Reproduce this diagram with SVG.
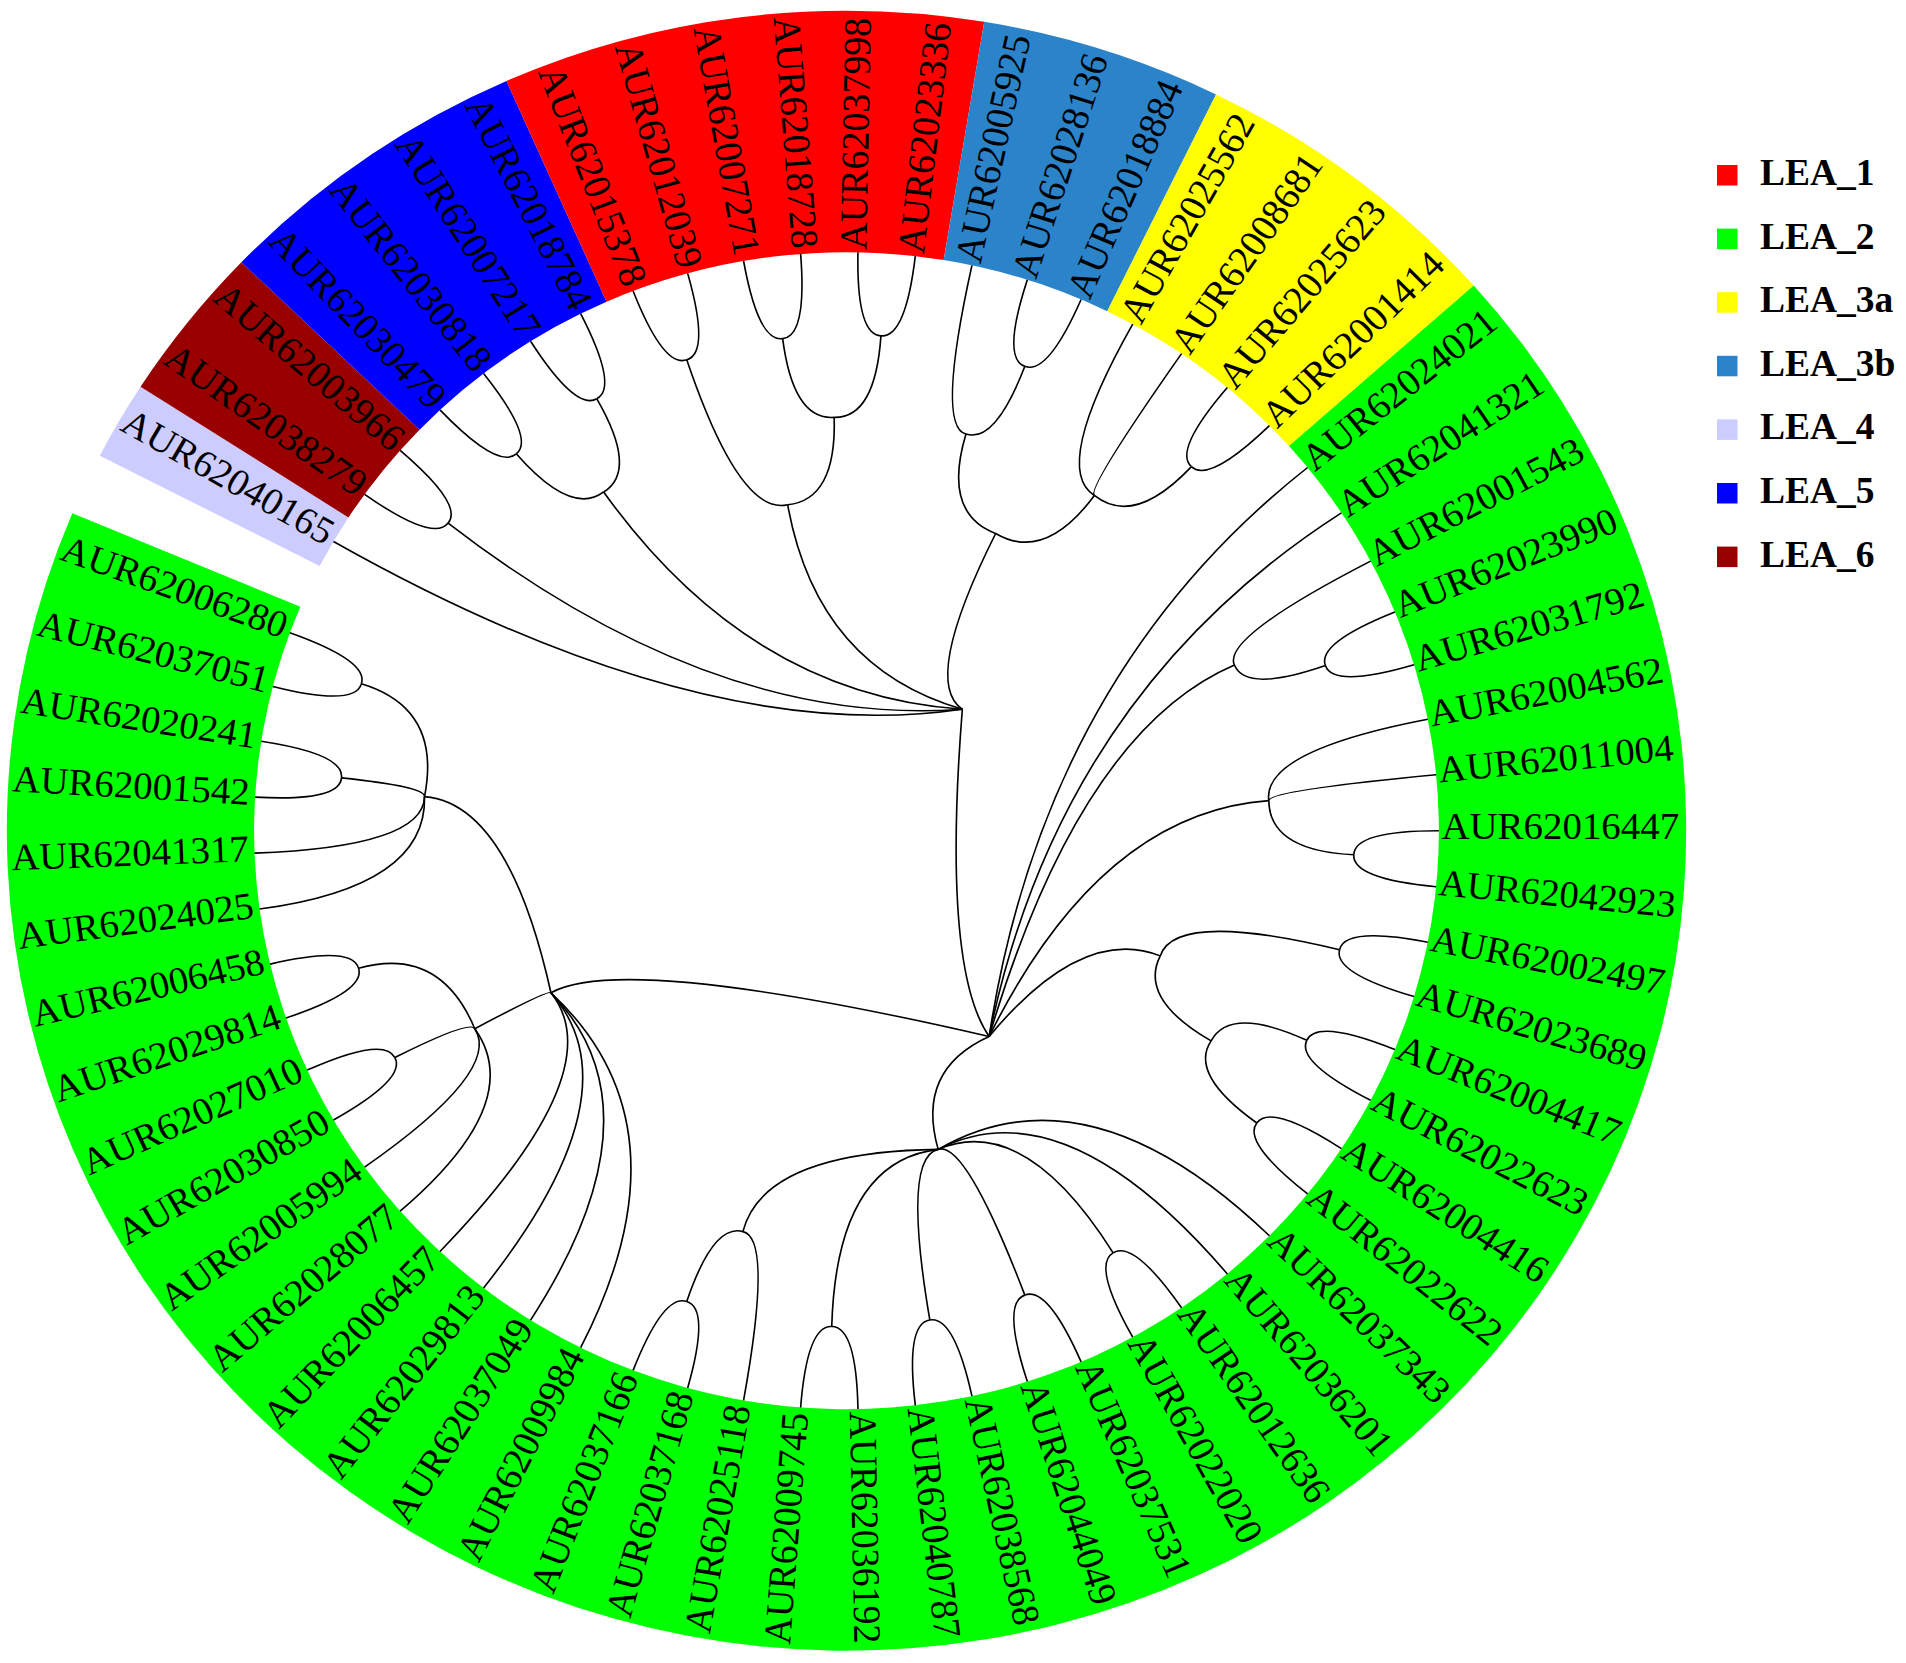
<svg xmlns="http://www.w3.org/2000/svg" width="1906" height="1663" viewBox="0 0 1906 1663">
<style>
.l{font-family:"Liberation Serif","Times New Roman",serif;font-size:38px;fill:#000}
.i{text-anchor:end}
.e path{fill:none;stroke:#000;stroke-width:1.6}
.lg{font-family:"Liberation Serif","Times New Roman",serif;font-size:37.5px;font-weight:bold;fill:#000}
</style>
<rect width="1906" height="1663" fill="#fff"/>
<g transform="translate(846.5,830.7) scale(1.024,1)">
<g id="ring">
<path id="sec-LEA_4" fill="#CCCCFF" d="M-514.44,-264.61L-729.19,-375.07A820 820 0 0 1 -689.42,-443.96L-486.38,-313.21A578.5 578.5 0 0 0 -514.44,-264.61Z"/>
<path id="sec-LEA_6" fill="#990000" d="M-486.38,-313.21L-689.42,-443.96A820 820 0 0 1 -590.95,-568.49L-416.91,-401.06A578.5 578.5 0 0 0 -486.38,-313.21Z"/>
<path id="sec-LEA_5" fill="#0000FF" d="M-416.91,-401.06L-590.95,-568.49A820 820 0 0 1 -332.09,-749.74L-234.28,-528.94A578.5 578.5 0 0 0 -416.91,-401.06Z"/>
<path id="sec-LEA_1" fill="#FF0000" d="M-234.28,-528.94L-332.09,-749.74A820 820 0 0 1 134.50,-808.89L94.89,-570.66A578.5 578.5 0 0 0 -234.28,-528.94Z"/>
<path id="sec-LEA_3b" fill="#2B84CA" d="M94.89,-570.66L134.50,-808.89A820 820 0 0 1 360.88,-736.32L254.59,-519.47A578.5 578.5 0 0 0 94.89,-570.66Z"/>
<path id="sec-LEA_3a" fill="#FFFF00" d="M254.59,-519.47L360.88,-736.32A820 820 0 0 1 612.53,-545.17L432.13,-384.61A578.5 578.5 0 0 0 254.59,-519.47Z"/>
<path id="sec-LEA_2" fill="#00FF00" d="M432.13,-384.61L612.53,-545.17A820 820 0 1 1 -756.04,-317.50L-533.38,-223.99A578.5 578.5 0 1 0 432.13,-384.61Z"/>
</g>
<g id="labels" class="l">
<g id="n0"><text class="i" transform="rotate(-150) translate(584 -8) rotate(180)">AUR62040165</text></g>
<g id="n1"><text class="i" transform="rotate(-144.444) translate(584 -8) rotate(180)">AUR62038279</text></g>
<g id="n2"><text class="i" transform="rotate(-138.889) translate(584 -8) rotate(180)">AUR62003966</text></g>
<g id="n3"><text class="i" transform="rotate(-133.333) translate(584 -8) rotate(180)">AUR62030479</text></g>
<g id="n4"><text class="i" transform="rotate(-127.778) translate(584 -8) rotate(180)">AUR62030818</text></g>
<g id="n5"><text class="i" transform="rotate(-122.222) translate(584 -8) rotate(180)">AUR62007217</text></g>
<g id="n6"><text class="i" transform="rotate(-116.667) translate(584 -8) rotate(180)">AUR62018784</text></g>
<g id="n7"><text class="i" transform="rotate(-111.111) translate(584 -8) rotate(180)">AUR62015378</text></g>
<g id="n8"><text class="i" transform="rotate(-105.556) translate(584 -8) rotate(180)">AUR62012039</text></g>
<g id="n9"><text class="i" transform="rotate(-100) translate(584 -8) rotate(180)">AUR62007271</text></g>
<g id="n10"><text class="i" transform="rotate(-94.444) translate(584 -8) rotate(180)">AUR62018728</text></g>
<g id="n11"><text transform="rotate(-88.889) translate(581 8)">AUR62037998</text></g>
<g id="n12"><text transform="rotate(-83.333) translate(581 8)">AUR62023336</text></g>
<g id="n13"><text transform="rotate(-77.778) translate(581 8)">AUR62005925</text></g>
<g id="n14"><text transform="rotate(-72.222) translate(581 8)">AUR62028136</text></g>
<g id="n15"><text transform="rotate(-66.667) translate(581 8)">AUR62018884</text></g>
<g id="n16"><text transform="rotate(-61.111) translate(581 8)">AUR62025562</text></g>
<g id="n17"><text transform="rotate(-55.556) translate(581 8)">AUR62008681</text></g>
<g id="n18"><text transform="rotate(-50) translate(581 8)">AUR62025623</text></g>
<g id="n19"><text transform="rotate(-44.444) translate(581 8)">AUR62001414</text></g>
<g id="n20"><text transform="rotate(-38.889) translate(581 8)">AUR62024021</text></g>
<g id="n21"><text transform="rotate(-33.333) translate(581 8)">AUR62041321</text></g>
<g id="n22"><text transform="rotate(-27.778) translate(581 8)">AUR62001543</text></g>
<g id="n23"><text transform="rotate(-22.222) translate(581 8)">AUR62023990</text></g>
<g id="n24"><text transform="rotate(-16.667) translate(581 8)">AUR62031792</text></g>
<g id="n25"><text transform="rotate(-11.111) translate(581 8)">AUR62004562</text></g>
<g id="n26"><text transform="rotate(-5.556) translate(581 8)">AUR62011004</text></g>
<g id="n27"><text transform="rotate(0) translate(581 8)">AUR62016447</text></g>
<g id="n28"><text transform="rotate(5.556) translate(581 8)">AUR62042923</text></g>
<g id="n29"><text transform="rotate(11.111) translate(581 8)">AUR62002497</text></g>
<g id="n30"><text transform="rotate(16.667) translate(581 8)">AUR62023689</text></g>
<g id="n31"><text transform="rotate(22.222) translate(581 8)">AUR62004417</text></g>
<g id="n32"><text transform="rotate(27.778) translate(581 8)">AUR62022623</text></g>
<g id="n33"><text transform="rotate(33.333) translate(581 8)">AUR62004416</text></g>
<g id="n34"><text transform="rotate(38.889) translate(581 8)">AUR62022622</text></g>
<g id="n35"><text transform="rotate(44.444) translate(581 8)">AUR62037343</text></g>
<g id="n36"><text transform="rotate(50) translate(581 8)">AUR62036201</text></g>
<g id="n37"><text transform="rotate(55.556) translate(581 8)">AUR62012636</text></g>
<g id="n38"><text transform="rotate(61.111) translate(581 8)">AUR62022020</text></g>
<g id="n39"><text transform="rotate(66.667) translate(581 8)">AUR62037531</text></g>
<g id="n40"><text transform="rotate(72.222) translate(581 8)">AUR62044049</text></g>
<g id="n41"><text transform="rotate(77.778) translate(581 8)">AUR62038568</text></g>
<g id="n42"><text transform="rotate(83.333) translate(581 8)">AUR62040787</text></g>
<g id="n43"><text transform="rotate(88.889) translate(581 8)">AUR62036192</text></g>
<g id="n44"><text class="i" transform="rotate(94.444) translate(584 -8) rotate(180)">AUR62009745</text></g>
<g id="n45"><text class="i" transform="rotate(100) translate(584 -8) rotate(180)">AUR62025118</text></g>
<g id="n46"><text class="i" transform="rotate(105.556) translate(584 -8) rotate(180)">AUR62037168</text></g>
<g id="n47"><text class="i" transform="rotate(111.111) translate(584 -8) rotate(180)">AUR62037166</text></g>
<g id="n48"><text class="i" transform="rotate(116.667) translate(584 -8) rotate(180)">AUR62009984</text></g>
<g id="n49"><text class="i" transform="rotate(122.222) translate(584 -8) rotate(180)">AUR62037049</text></g>
<g id="n50"><text class="i" transform="rotate(127.778) translate(584 -8) rotate(180)">AUR62029813</text></g>
<g id="n51"><text class="i" transform="rotate(133.333) translate(584 -8) rotate(180)">AUR62006457</text></g>
<g id="n52"><text class="i" transform="rotate(138.889) translate(584 -8) rotate(180)">AUR62028077</text></g>
<g id="n53"><text class="i" transform="rotate(144.444) translate(584 -8) rotate(180)">AUR62005994</text></g>
<g id="n54"><text class="i" transform="rotate(150) translate(584 -8) rotate(180)">AUR62030850</text></g>
<g id="n55"><text class="i" transform="rotate(155.556) translate(584 -8) rotate(180)">AUR62027010</text></g>
<g id="n56"><text class="i" transform="rotate(161.111) translate(584 -8) rotate(180)">AUR62029814</text></g>
<g id="n57"><text class="i" transform="rotate(166.667) translate(584 -8) rotate(180)">AUR62006458</text></g>
<g id="n58"><text class="i" transform="rotate(172.222) translate(584 -8) rotate(180)">AUR62024025</text></g>
<g id="n59"><text class="i" transform="rotate(177.778) translate(584 -8) rotate(180)">AUR62041317</text></g>
<g id="n60"><text class="i" transform="rotate(183.333) translate(584 -8) rotate(180)">AUR62001542</text></g>
<g id="n61"><text class="i" transform="rotate(188.889) translate(584 -8) rotate(180)">AUR62020241</text></g>
<g id="n62"><text class="i" transform="rotate(194.444) translate(584 -8) rotate(180)">AUR62037051</text></g>
<g id="n63"><text class="i" transform="rotate(200) translate(584 -8) rotate(180)">AUR62006280</text></g>
</g>
<g id="connectors" class="e">
<path d="M113.11,-121.50Q-143.76,-83.00 -501.00,-289.25"/>
<path d="M113.11,-121.50Q-130.21,-102.96 -389.07,-307.64"/>
<path d="M113.11,-121.50Q-95.21,-135.98 -237.17,-338.72"/>
<path d="M113.11,-121.50Q-28.83,-163.48 -57.48,-325.97"/>
<path d="M113.11,-121.50Q73.06,-149.06 145.67,-297.22"/>
<path d="M113.11,-121.50Q93.06,137.46 139.31,205.78"/>
<path d="M-389.07,-307.64Q-403.52,-288.42 -470.60,-336.40"/>
<path d="M-389.07,-307.64Q-373.71,-326.13 -435.90,-380.40"/>
<path d="M-237.17,-338.72Q-268.85,-314.17 -322.49,-376.85"/>
<path d="M-237.17,-338.72Q-203.27,-360.09 -243.82,-431.93"/>
<path d="M-322.49,-376.85Q-340.37,-360.78 -397.00,-420.80"/>
<path d="M-322.49,-376.85Q-303.85,-392.03 -354.40,-457.20"/>
<path d="M-243.82,-431.93Q-264.47,-419.61 -308.50,-489.40"/>
<path d="M-243.82,-431.93Q-222.60,-443.24 -259.60,-517.00"/>
<path d="M-57.48,-325.97Q-104.11,-314.20 -156.01,-470.83"/>
<path d="M-57.48,-325.97Q-9.63,-330.86 -12.03,-413.33"/>
<path d="M-156.01,-470.83Q-178.65,-462.71 -208.40,-539.70"/>
<path d="M-156.01,-470.83Q-133.02,-477.83 -155.10,-557.30"/>
<path d="M-12.03,-413.33Q-51.98,-410.22 -62.35,-492.06"/>
<path d="M-12.03,-413.33Q28.05,-412.55 33.64,-494.86"/>
<path d="M-62.35,-492.06Q-86.13,-488.46 -100.50,-569.70"/>
<path d="M-62.35,-492.06Q-38.44,-494.51 -44.80,-576.80"/>
<path d="M33.64,-494.86Q9.62,-495.91 11.20,-578.40"/>
<path d="M33.64,-494.86Q57.58,-492.65 67.20,-574.60"/>
<path d="M145.67,-297.22Q93.39,-317.55 116.67,-396.70"/>
<path d="M145.67,-297.22Q193.78,-268.35 242.07,-335.23"/>
<path d="M116.67,-396.70Q87.54,-404.13 122.50,-565.40"/>
<path d="M116.67,-396.70Q145.19,-387.17 174.16,-464.42"/>
<path d="M174.16,-464.42Q151.44,-472.31 176.60,-550.90"/>
<path d="M174.16,-464.42Q196.46,-455.43 229.10,-531.20"/>
<path d="M242.07,-335.23Q199.77,-362.04 279.50,-506.50"/>
<path d="M242.07,-335.23Q233.88,-341.00 327.20,-477.10"/>
<path d="M242.07,-335.23Q280.83,-303.51 336.86,-364.06"/>
<path d="M336.86,-364.06Q318.82,-379.96 371.90,-443.20"/>
<path d="M336.86,-364.06Q354.11,-347.31 413.00,-405.10"/>
<path d="M139.31,205.78Q193.42,-156.01 450.30,-363.20"/>
<path d="M139.31,205.78Q207.62,-136.55 483.30,-317.90"/>
<path d="M139.31,205.78Q227.70,-99.53 378.88,-165.62"/>
<path d="M139.31,205.78Q247.84,-18.05 412.41,-30.04"/>
<path d="M139.31,205.78Q230.04,93.98 306.41,125.18"/>
<path d="M139.31,205.78Q67.22,239.24 89.54,318.66"/>
<path d="M139.31,205.78Q-216.70,121.63 -288.64,162.02"/>
<path d="M378.88,-165.62Q365.85,-192.71 511.80,-269.60"/>
<path d="M378.88,-165.62Q389.92,-137.65 467.71,-165.11"/>
<path d="M467.71,-165.11Q459.16,-187.59 535.50,-218.80"/>
<path d="M467.71,-165.11Q475.16,-142.25 554.20,-165.90"/>
<path d="M412.41,-30.04Q405.75,-79.69 567.70,-111.50"/>
<path d="M412.41,-30.04Q411.56,-40.03 575.80,-56.00"/>
<path d="M412.41,-30.04Q413.01,20.04 495.42,24.04"/>
<path d="M495.42,24.04Q496.00,0.00 578.50,0.00"/>
<path d="M495.42,24.04Q493.67,48.02 575.80,56.00"/>
<path d="M306.41,125.18Q321.32,79.45 481.50,119.06"/>
<path d="M306.41,125.18Q285.03,168.27 356.08,210.22"/>
<path d="M481.50,119.06Q486.70,95.59 567.70,111.50"/>
<path d="M481.50,119.06Q475.16,142.25 554.20,165.90"/>
<path d="M356.08,210.22Q374.76,174.75 449.53,209.62"/>
<path d="M356.08,210.22Q334.06,243.70 400.71,292.32"/>
<path d="M449.53,209.62Q459.16,187.59 535.50,218.80"/>
<path d="M449.53,209.62Q438.84,231.16 511.80,269.60"/>
<path d="M400.71,292.32Q414.40,272.56 483.30,317.90"/>
<path d="M400.71,292.32Q386.07,311.40 450.30,363.20"/>
<path d="M89.54,318.66Q236.31,231.77 413.00,405.10"/>
<path d="M89.54,318.66Q212.76,253.56 371.90,443.20"/>
<path d="M89.54,318.66Q173.77,281.72 260.39,422.15"/>
<path d="M89.54,318.66Q116.22,309.93 174.16,464.42"/>
<path d="M89.54,318.66Q54.29,326.52 81.36,489.28"/>
<path d="M89.54,318.66Q-9.63,330.86 -14.43,495.79"/>
<path d="M89.54,318.66Q-81.01,320.93 -101.20,400.92"/>
<path d="M260.39,422.15Q280.54,409.04 327.20,477.10"/>
<path d="M260.39,422.15Q239.62,434.28 279.50,506.50"/>
<path d="M174.16,464.42Q196.46,455.43 229.10,531.20"/>
<path d="M174.16,464.42Q151.44,472.31 176.60,550.90"/>
<path d="M81.36,489.28Q105.00,484.76 122.50,565.40"/>
<path d="M81.36,489.28Q57.58,492.65 67.20,574.60"/>
<path d="M-14.43,495.79Q9.62,495.91 11.20,578.40"/>
<path d="M-14.43,495.79Q-38.44,494.51 -44.80,576.80"/>
<path d="M-101.20,400.92Q-71.80,407.22 -100.50,569.70"/>
<path d="M-101.20,400.92Q-130.06,392.51 -156.01,470.83"/>
<path d="M-156.01,470.83Q-133.02,477.83 -155.10,557.30"/>
<path d="M-156.01,470.83Q-178.65,462.71 -208.40,539.70"/>
<path d="M-288.64,162.02Q-148.55,295.79 -259.60,517.00"/>
<path d="M-288.64,162.02Q-176.49,280.02 -308.50,489.40"/>
<path d="M-288.64,162.02Q-202.77,261.62 -354.40,457.20"/>
<path d="M-288.64,162.02Q-227.15,240.76 -397.00,420.80"/>
<path d="M-288.64,162.02Q-290.58,158.50 -363.01,198.01"/>
<path d="M-288.64,162.02Q-329.88,-27.25 -412.10,-34.04"/>
<path d="M-363.01,198.01Q-311.55,271.88 -435.90,380.40"/>
<path d="M-363.01,198.01Q-336.40,240.45 -470.60,336.40"/>
<path d="M-363.01,198.01Q-367.71,189.14 -441.07,226.87"/>
<path d="M-363.01,198.01Q-397.26,114.75 -476.52,137.64"/>
<path d="M-441.07,226.87Q-429.55,248.00 -501.00,289.25"/>
<path d="M-441.07,226.87Q-451.54,205.25 -526.60,239.40"/>
<path d="M-476.52,137.64Q-469.29,160.57 -547.30,187.30"/>
<path d="M-476.52,137.64Q-482.63,114.38 -562.90,133.40"/>
<path d="M-412.10,-34.04Q-409.70,55.96 -573.20,78.30"/>
<path d="M-412.10,-34.04Q-413.19,16.03 -578.10,22.40"/>
<path d="M-412.10,-34.04Q-411.15,-44.02 -493.18,-52.80"/>
<path d="M-412.10,-34.04Q-394.96,-122.43 -473.76,-146.85"/>
<path d="M-493.18,-52.80Q-495.16,-28.84 -577.50,-33.60"/>
<path d="M-493.18,-52.80Q-490.04,-76.64 -571.60,-89.40"/>
<path d="M-473.76,-146.85Q-480.32,-123.72 -560.20,-144.30"/>
<path d="M-473.76,-146.85Q-466.09,-169.64 -543.60,-197.90"/>
</g>
</g>
<g id="legend">
<g id="leg-LEA_1"><rect x="1717" y="165" width="20.5" height="20.5" fill="#FF0000"/><text class="lg" x="1760" y="185">LEA_1</text></g>
<g id="leg-LEA_2"><rect x="1717" y="228.6" width="20.5" height="20.5" fill="#00FF00"/><text class="lg" x="1760" y="248.6">LEA_2</text></g>
<g id="leg-LEA_3a"><rect x="1717" y="292.2" width="20.5" height="20.5" fill="#FFFF00"/><text class="lg" x="1760" y="312.2">LEA_3a</text></g>
<g id="leg-LEA_3b"><rect x="1717" y="355.8" width="20.5" height="20.5" fill="#2B84CA"/><text class="lg" x="1760" y="375.8">LEA_3b</text></g>
<g id="leg-LEA_4"><rect x="1717" y="419.4" width="20.5" height="20.5" fill="#CCCCFF"/><text class="lg" x="1760" y="439.4">LEA_4</text></g>
<g id="leg-LEA_5"><rect x="1717" y="483" width="20.5" height="20.5" fill="#0000FF"/><text class="lg" x="1760" y="503">LEA_5</text></g>
<g id="leg-LEA_6"><rect x="1717" y="546.6" width="20.5" height="20.5" fill="#990000"/><text class="lg" x="1760" y="566.6">LEA_6</text></g>
</g>
</svg>
